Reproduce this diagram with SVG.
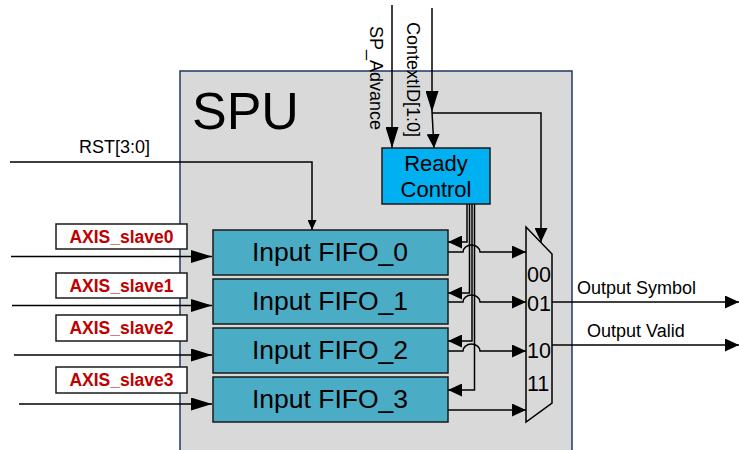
<svg xmlns="http://www.w3.org/2000/svg" width="739" height="450" viewBox="0 0 739 450">
<defs>
<style>
.ln{fill:none;stroke:#000;stroke-width:1.5}
.fifo{fill:#4bacc6;stroke:#1a1a1a;stroke-width:1.5}
.ft{font-family:"Liberation Sans",Arial,sans-serif;font-size:26.5px;fill:#000;text-anchor:middle}
.lab{fill:#fff;stroke:#1a1a1a;stroke-width:1.5}
.lt{font-family:"Liberation Sans",Arial,sans-serif;font-size:17.5px;font-weight:bold;fill:#c00000;text-anchor:middle}
.t{font-family:"Liberation Sans",Arial,sans-serif;fill:#000}
</style>
<marker id="am" markerUnits="userSpaceOnUse" markerWidth="14" markerHeight="13" refX="14" refY="6.5" orient="auto"><path d="M0,0 L14,6.5 L0,13 z" fill="#000"/></marker>
<marker id="al" markerUnits="userSpaceOnUse" markerWidth="21" markerHeight="13" refX="21" refY="6.5" orient="auto"><path d="M0,0 L21,6.5 L0,13 z" fill="#000"/></marker>
<marker id="as" markerUnits="userSpaceOnUse" markerWidth="10" markerHeight="9" refX="10" refY="4.5" orient="auto"><path d="M0,0 L10,4.5 L0,9 z" fill="#000"/></marker>
</defs>
<rect width="739" height="450" fill="#fff"/>
<g id="spu">
<rect x="180" y="71" width="392" height="400" fill="#d9d9d9" stroke="#1f3864" stroke-width="1.5"/>
<text class="t" x="192" y="129" font-size="52">SPU</text>
</g>
<g id="connectors">
<line class="ln" x1="392" y1="5" x2="392" y2="148" marker-end="url(#al)"/>
<line class="ln" x1="432" y1="8" x2="432" y2="112" marker-end="url(#al)"/>
<line class="ln" x1="432" y1="112" x2="434" y2="148" marker-end="url(#am)"/>
<polyline class="ln" points="432,113 541,113 541,242" marker-end="url(#am)"/>
<polyline class="ln" points="10,162 312,162 312,230" marker-end="url(#as)"/>
<line class="ln" x1="11" y1="256.5" x2="212" y2="256.5" marker-end="url(#al)"/>
<line class="ln" x1="12" y1="305.5" x2="212" y2="305.5" marker-end="url(#al)"/>
<line class="ln" x1="14" y1="355" x2="212" y2="355" marker-end="url(#al)"/>
<line class="ln" x1="19" y1="404" x2="212" y2="404" marker-end="url(#al)"/>
<polyline class="ln" points="467,204 467,242 448,242" marker-end="url(#am)"/>
<polyline class="ln" points="469.5,204 469.5,293 448,293" marker-end="url(#am)"/>
<polyline class="ln" points="472,204 472,341 448,341" marker-end="url(#am)"/>
<polyline class="ln" points="474.5,204 474.5,390 448,390" marker-end="url(#am)"/>
<path class="ln" d="M448,252 H463 a8.5,7 0 0 1 17,0 H526" marker-end="url(#am)"/>
<path class="ln" d="M448,302 H463 a8.5,7 0 0 1 17,0 H526" marker-end="url(#am)"/>
<path class="ln" d="M448,351 H463 a8.5,7 0 0 1 17,0 H526" marker-end="url(#am)"/>
<line class="ln" x1="448" y1="410" x2="526" y2="410" marker-end="url(#am)"/>
<line class="ln" x1="552" y1="302" x2="739" y2="302" marker-end="url(#am)"/>
<line class="ln" x1="552" y1="345" x2="739" y2="345" marker-end="url(#am)"/>
<text class="t" x="577" y="294" font-size="18">Output Symbol</text>
<text class="t" x="587" y="337" font-size="18">Output Valid</text>
<text class="t" x="79" y="153" font-size="18">RST[3:0]</text>
<text class="t" font-size="18" transform="translate(370,26) rotate(90)">SP_Advance</text>
<text class="t" font-size="18" transform="translate(407,22) rotate(90)">ContextID[1:0]</text>
</g>
<g id="ready-control">
<rect x="382" y="148" width="108" height="56" fill="#00b0f0" stroke="#1a1a1a" stroke-width="1.5"/>
<text class="t" x="436" y="171" font-size="22" text-anchor="middle">Ready</text>
<text class="t" x="436" y="197" font-size="22" text-anchor="middle">Control</text>
</g>
<g id="fifo0"><rect class="fifo" x="213" y="230" width="235" height="45"/><text class="ft" x="330" y="261">Input FIFO_0</text></g>
<g id="fifo1"><rect class="fifo" x="213" y="279" width="235" height="45"/><text class="ft" x="330" y="310">Input FIFO_1</text></g>
<g id="fifo2"><rect class="fifo" x="213" y="328" width="235" height="45"/><text class="ft" x="330" y="359">Input FIFO_2</text></g>
<g id="fifo3"><rect class="fifo" x="213" y="377" width="235" height="45"/><text class="ft" x="330" y="408">Input FIFO_3</text></g>
<g id="mux">
<polygon points="526,227 552,254 552,403 526,422" fill="#d9d9d9" stroke="#000" stroke-width="1.5"/>
<text class="t" x="527" y="282" font-size="21.5">00</text>
<text class="t" x="527" y="311" font-size="21.5">01</text>
<text class="t" x="527" y="358" font-size="21.5">10</text>
<text class="t" x="527" y="391" font-size="21.5">11</text>
</g>
<g id="axis0"><rect class="lab" x="56" y="224" width="131" height="25"/><text class="lt" x="121.5" y="243">AXIS_slave0</text></g>
<g id="axis1"><rect class="lab" x="56" y="273" width="131" height="25"/><text class="lt" x="121.5" y="292">AXIS_slave1</text></g>
<g id="axis2"><rect class="lab" x="56" y="315" width="131" height="26"/><text class="lt" x="121.5" y="334">AXIS_slave2</text></g>
<g id="axis3"><rect class="lab" x="56" y="367" width="131" height="26"/><text class="lt" x="121.5" y="386">AXIS_slave3</text></g>
</svg>
